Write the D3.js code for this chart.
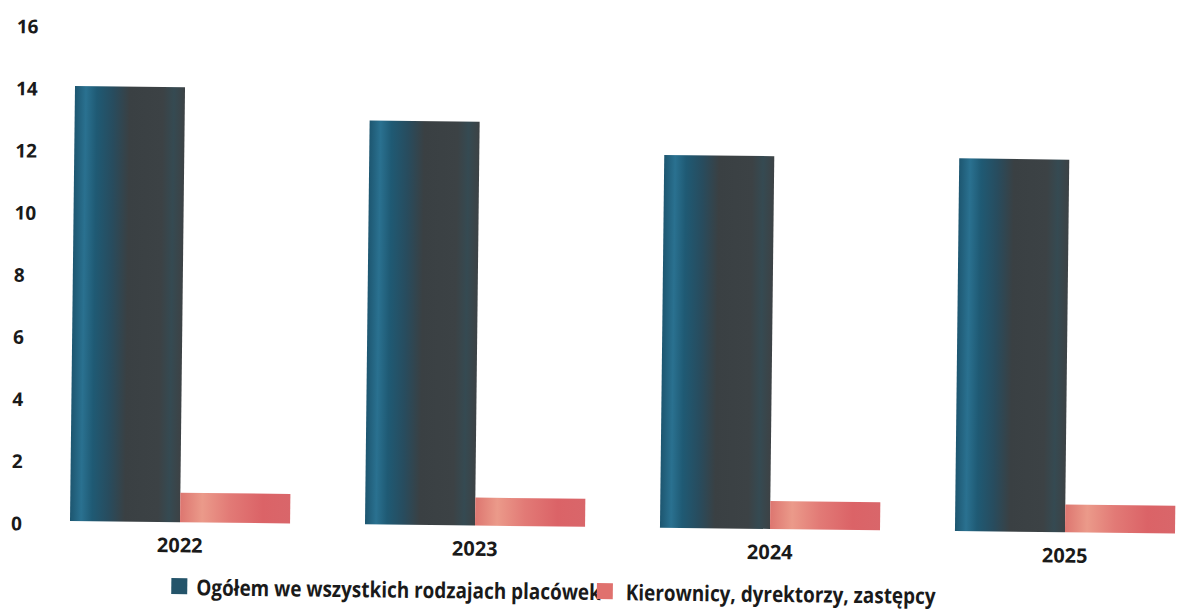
<!DOCTYPE html>
<html><head><meta charset="utf-8">
<script src="https://cdn.jsdelivr.net/npm/d3@7/dist/d3.min.js"></script>
<style>
html,body{margin:0;padding:0;background:#fff;}
svg{display:block;}
text{font-family:"Open Sans",sans-serif;fill:#1a1a1a;}
</style></head>
<body>
<script>
const categories = ["2022","2023","2024","2025"];
const seriesNames = ["Ogółem we wszystkich rodzajach placówek","Kierownicy, dyrektorzy, zastępcy"];
const totalValues = [14, 13, 12, 12];
const managerValues = [0.95, 0.9, 0.9, 0.9];
const yTicks = [0,2,4,6,8,10,12,14,16];

const W = 1198, H = 610;
const svg = d3.select("body").append("svg").attr("width", W).attr("height", H);
const defs = svg.append("defs");
const g1 = defs.append("linearGradient").attr("id","gDark").attr("x1","0").attr("x2","1").attr("y1","0").attr("y2","0");
[[0,"#1d5670"],[0.1,"#2a7190"],[0.2,"#1f5a74"],[0.35,"#284c5e"],[0.5,"#3a4043"],[0.8,"#3c4245"],[0.9,"#354a52"],[1,"#3d4245"]]
  .forEach(([o,c])=>g1.append("stop").attr("offset",o).attr("stop-color",c));
const g2 = defs.append("linearGradient").attr("id","gRed").attr("x1","0").attr("x2","1").attr("y1","0").attr("y2","0");
[[0,"#dd7670"],[0.2,"#eb9a8a"],[0.45,"#e27a76"],[0.75,"#db6367"],[1,"#d9666a"]]
  .forEach(([o,c])=>g2.append("stop").attr("offset",o).attr("stop-color",c));

const root = svg.append("g").attr("transform","rotate(0.66,600,527)");

const x0 = d3.scaleBand().domain(categories).range([32.5, 1212.5]).paddingInner(0.254).paddingOuter(0.127);
const x1 = d3.scaleBand().domain([0,1]).range([0, x0.bandwidth()]).padding(0);
const y = d3.scaleLinear().domain([0,16]).range([527, 30]);

// y axis
const ya = root.append("g").attr("transform","translate(11,0)")
  .call(d3.axisLeft(y).tickValues(yTicks).tickSize(0).tickFormat(d3.format("d")));
ya.select(".domain").remove();
ya.selectAll("text").attr("x",0).attr("dy","0.5em").attr("text-anchor","start")
  .style("font-family","'Open Sans',sans-serif").style("font-size","19px").style("font-weight","700").style("fill","#1a1a1a");

// bars
const series = [totalValues, managerValues];
const fills = ["url(#gDark)","url(#gRed)"];
categories.forEach((c,i)=>{
  series.forEach((s,j)=>{
    root.append("rect")
      .attr("x", x0(c)+x1(j))
      .attr("y", y(s[i]))
      .attr("width", x1.bandwidth())
      .attr("height", y(0)-y(s[i]))
      .attr("fill", fills[j]);
  });
});

// x axis
const xa = root.append("g").attr("transform","translate(0,527)")
  .call(d3.axisBottom(x0).tickSize(0).tickPadding(16));
xa.select(".domain").remove();
xa.selectAll("text").style("font-family","'Open Sans',sans-serif").style("font-size","20px").style("font-weight","700").style("fill","#1a1a1a");

// legend (condensed text via horizontal scale)
const legend = root.append("g");
const legCols = ["#24546a","#e0716e"];
const sx = 0.86;
let lx = 172;
seriesNames.forEach((n,i)=>{
  legend.append("rect").attr("x",lx).attr("y",583).attr("width",16).attr("height",16).attr("fill",legCols[i]);
  const tx = lx + (i === 0 ? 25 : 29);
  const t = legend.append("text").attr("transform",`translate(${tx},600) scale(${sx},1)`).text(n)
    .style("font-size","22px").style("font-weight","700").style("fill","#1a1a1a");
  lx = tx + t.node().getComputedTextLength()*sx - 4;
});
</script>
</body></html>
